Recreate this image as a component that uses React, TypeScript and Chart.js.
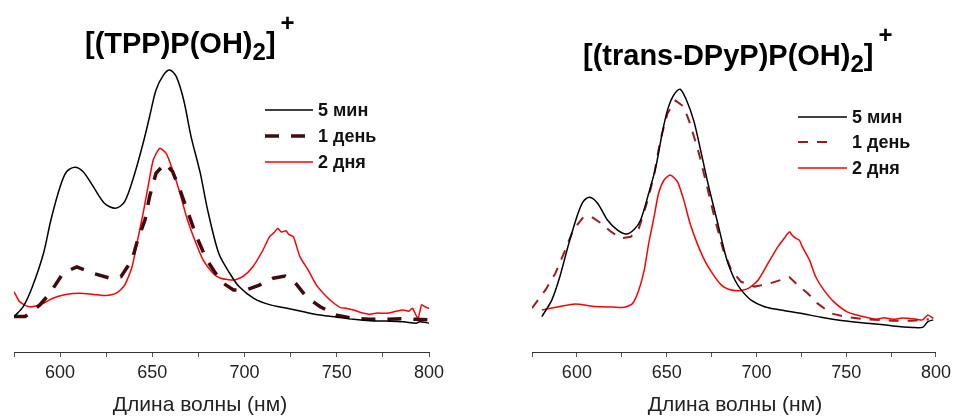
import React, { useEffect, useRef } from 'react';
import { Chart, registerables } from 'chart.js';

Chart.register(...registerables);

const FONT = '"Liberation Sans", Arial, sans-serif';

// ---------- Data: [(TPP)P(OH)2]+ ----------
const seriesLabels = ['5 мин', '1 день', '2 дня'];
const axisTitle = 'Длина волны (нм)';
const xTickValues = [600, 650, 700, 750, 800];

const tppNm5min = [575, 580, 585, 591, 595, 600, 603.5, 608, 612.5, 618, 624, 630, 635, 640.5, 645, 648.5, 652, 656, 659.5, 663, 667, 671, 676, 680, 686, 692, 697, 705, 714, 723, 732, 741, 750, 759, 768, 777, 786, 793, 795, 800];
const tpp5min = [0.118, 0.151, 0.218, 0.329, 0.44, 0.551, 0.601, 0.616, 0.601, 0.551, 0.496, 0.479, 0.501, 0.596, 0.696, 0.784, 0.873, 0.923, 0.94, 0.918, 0.84, 0.718, 0.596, 0.473, 0.329, 0.262, 0.218, 0.179, 0.157, 0.146, 0.134, 0.123, 0.116, 0.109, 0.104, 0.103, 0.101, 0.096, 0.101, 0.096];

const tppNm1day = [575, 581, 589, 594.5, 601.5, 609, 618, 627, 633, 639, 642, 646, 648.5, 652, 657, 661, 665, 669.5, 674, 679.5, 685.5, 688.5, 694, 701, 708, 715.5, 722, 727, 733.5, 741, 750, 759, 768, 777, 786, 793, 800];
const tpp1day = [0.118, 0.118, 0.157, 0.196, 0.262, 0.284, 0.262, 0.246, 0.251, 0.307, 0.373, 0.44, 0.518, 0.596, 0.629, 0.601, 0.54, 0.462, 0.384, 0.307, 0.251, 0.229, 0.207, 0.207, 0.223, 0.246, 0.253, 0.234, 0.184, 0.151, 0.123, 0.112, 0.109, 0.109, 0.111, 0.109, 0.107];

const tppNm2days = [575, 578, 583, 589, 596, 603, 611, 618, 625, 630.5, 635, 639, 642, 645, 648, 650.5, 654, 657.5, 661, 665, 668.5, 673, 677.5, 683, 687, 694, 699, 704.5, 710, 713.5, 716, 718, 720, 722.5, 724, 726.5, 730, 734.5, 739, 744.5, 748, 752, 755, 759, 763, 768, 772, 777, 781, 786, 789, 791, 794, 796, 798, 800];
const tpp2days = [0.201, 0.168, 0.151, 0.157, 0.179, 0.192, 0.196, 0.192, 0.188, 0.196, 0.223, 0.284, 0.373, 0.462, 0.562, 0.64, 0.679, 0.662, 0.607, 0.529, 0.451, 0.373, 0.307, 0.262, 0.246, 0.24, 0.251, 0.284, 0.34, 0.384, 0.398, 0.412, 0.4, 0.404, 0.392, 0.384, 0.318, 0.273, 0.223, 0.184, 0.165, 0.148, 0.146, 0.14, 0.132, 0.126, 0.13, 0.129, 0.134, 0.14, 0.136, 0.146, 0.112, 0.157, 0.15, 0.146];

// ---------- Data: [(trans-DPyP)P(OH)2]+ ----------
const dpyNm5min = [580.5, 586, 590.5, 595, 600, 603.5, 607, 611.5, 617, 622.5, 627.5, 632, 635.5, 640, 644, 647.5, 650.5, 654, 657.5, 661, 665, 668.5, 673, 678, 682.5, 684.5, 688, 691.5, 697, 704.5, 713.5, 724.5, 736, 748.5, 761.5, 776, 787, 792.5, 795.5, 798.5];
const dpy5min = [0.118, 0.173, 0.251, 0.351, 0.451, 0.501, 0.516, 0.496, 0.44, 0.407, 0.393, 0.409, 0.44, 0.529, 0.618, 0.729, 0.807, 0.857, 0.876, 0.84, 0.773, 0.684, 0.562, 0.44, 0.329, 0.29, 0.24, 0.207, 0.173, 0.151, 0.14, 0.129, 0.116, 0.104, 0.096, 0.087, 0.082, 0.082, 0.101, 0.107];

const dpyNm1day = [575, 582.5, 588, 593.5, 598, 603.5, 608, 613.5, 619, 624.5, 630, 634.5, 639.5, 643, 646.5, 650.5, 655, 659.5, 663, 668, 672.5, 677, 681.5, 686, 691.5, 699, 706.5, 713.5, 718.5, 723, 728.5, 734, 741.5, 750.5, 761.5, 776, 787, 796];
const dpy1day = [0.146, 0.207, 0.262, 0.34, 0.407, 0.449, 0.451, 0.429, 0.401, 0.379, 0.384, 0.412, 0.507, 0.59, 0.707, 0.796, 0.838, 0.818, 0.762, 0.662, 0.551, 0.44, 0.34, 0.273, 0.234, 0.218, 0.227, 0.24, 0.249, 0.223, 0.196, 0.162, 0.129, 0.116, 0.109, 0.104, 0.104, 0.109];

const dpyNm2days = [580.5, 590, 599, 610, 620, 626.5, 631, 634.5, 637.5, 640, 643, 645.5, 648.5, 652, 656, 659.5, 663, 667, 671.5, 676, 680.5, 684.5, 690, 695.5, 701, 706.5, 712, 715.5, 717, 718.5, 720, 722, 724, 725.5, 729.5, 733, 737.5, 743, 750.5, 758, 767, 771, 776, 781, 785.5, 790, 792.5, 795.5, 798.5];
const dpy2days = [0.14, 0.151, 0.16, 0.152, 0.15, 0.149, 0.162, 0.207, 0.273, 0.362, 0.451, 0.529, 0.573, 0.59, 0.568, 0.507, 0.429, 0.362, 0.301, 0.257, 0.223, 0.209, 0.204, 0.212, 0.24, 0.296, 0.351, 0.379, 0.392, 0.401, 0.388, 0.379, 0.372, 0.351, 0.307, 0.251, 0.207, 0.168, 0.134, 0.12, 0.109, 0.114, 0.109, 0.113, 0.112, 0.108, 0.107, 0.123, 0.112];

const pts = (xs: number[], ys: number[]) => xs.map((x, i) => ({ x, y: ys[i] }));

type PanelCfg = {
  left: number;
  pad: { left: number; right: number; top: number };
  title: { x: number; y: number; main: string; sub: string; close: string; sup: string };
  legend: { x0: number; x1: number; dashEnd: number; tx: number; ys: number[] };
  axisTitleX: number;
  dashColor: string;
  dashWidth: number;
  dash: number[];
  data: { nm: number[]; v: number[] }[];
};

const panels: PanelCfg[] = [
  {
    left: 0,
    pad: { left: 14, right: 49, top: 52 },
    title: { x: 85, y: 53, main: '[(TPP)P(OH)', sub: '2', close: ']', sup: '+' },
    legend: { x0: 265, x1: 313, dashEnd: 306, tx: 318, ys: [110, 136, 162] },
    axisTitleX: 200,
    dashColor: '#420a0e',
    dashWidth: 3.5,
    dash: [14, 12],
    data: [
      { nm: tppNm5min, v: tpp5min },
      { nm: tppNm1day, v: tpp1day },
      { nm: tppNm2days, v: tpp2days },
    ],
  },
  {
    left: 478,
    pad: { left: 54, right: 17, top: 52 },
    title: { x: 105, y: 65, main: '[(trans-DPyP)P(OH)', sub: '2', close: ']', sup: '+' },
    legend: { x0: 320, x1: 369, dashEnd: 350, tx: 374, ys: [117, 142, 168] },
    axisTitleX: 257,
    dashColor: '#a01820',
    dashWidth: 2,
    dash: [10, 9],
    data: [
      { nm: dpyNm5min, v: dpy5min },
      { nm: dpyNm1day, v: dpy1day },
      { nm: dpyNm2days, v: dpy2days },
    ],
  },
];

function Panel({ cfg }: { cfg: PanelCfg }) {
  const ref = useRef<HTMLCanvasElement>(null);
  useEffect(() => {
    if (!ref.current) return;
    const decorPlugin = {
      id: 'decor',
      afterDraw(chart: any) {
        const ctx = chart.ctx as CanvasRenderingContext2D;
        ctx.save();
        // Title with subscript / superscript
        const t = cfg.title;
        let x = t.x;
        ctx.fillStyle = '#000';
        ctx.textAlign = 'left';
        ctx.textBaseline = 'alphabetic';
        ctx.font = `bold 29px ${FONT}`;
        ctx.fillText(t.main, x, t.y);
        x += ctx.measureText(t.main).width;
        ctx.font = `bold 24px ${FONT}`;
        ctx.fillText(t.sub, x, t.y + 7);
        x += ctx.measureText(t.sub).width;
        ctx.font = `bold 29px ${FONT}`;
        ctx.fillText(t.close, x, t.y);
        x += ctx.measureText(t.close).width + 5;
        ctx.font = `bold 24px ${FONT}`;
        ctx.fillText(t.sup, x, t.y - 22);

        // Legend
        const lg = cfg.legend;
        chart.data.datasets.forEach((ds: any, i: number) => {
          const y = lg.ys[i];
          ctx.beginPath();
          ctx.strokeStyle = ds.borderColor;
          ctx.lineWidth = ds.borderWidth;
          ctx.setLineDash(ds.borderDash || []);
          ctx.moveTo(lg.x0, y);
          ctx.lineTo(ds.borderDash && ds.borderDash.length ? lg.dashEnd : lg.x1, y);
          ctx.stroke();
          ctx.setLineDash([]);
          ctx.fillStyle = '#111';
          ctx.font = `bold 18px ${FONT}`;
          ctx.textBaseline = 'middle';
          ctx.fillText(ds.label, lg.tx, y + 1);
        });

        // Axis title
        ctx.fillStyle = '#222';
        ctx.font = `21px ${FONT}`;
        ctx.textAlign = 'center';
        ctx.textBaseline = 'middle';
        ctx.fillText(axisTitle, cfg.axisTitleX, 405);
        ctx.restore();
      },
    };

    const chart = new Chart(ref.current, {
      type: 'line',
      data: {
        datasets: [
          {
            label: seriesLabels[0],
            data: pts(cfg.data[0].nm, cfg.data[0].v),
            borderColor: '#000000',
            borderWidth: 1.5,
            pointRadius: 0,
            tension: 0.3,
            fill: false,
          },
          {
            label: seriesLabels[1],
            data: pts(cfg.data[1].nm, cfg.data[1].v),
            borderColor: cfg.dashColor,
            borderWidth: cfg.dashWidth,
            borderDash: cfg.dash,
            pointRadius: 0,
            tension: 0,
            fill: false,
          },
          {
            label: seriesLabels[2],
            data: pts(cfg.data[2].nm, cfg.data[2].v),
            borderColor: '#ff0000',
            borderWidth: 1.5,
            pointRadius: 0,
            tension: 0.2,
            fill: false,
          },
        ],
      },
      options: {
        responsive: false,
        devicePixelRatio: 1,
        animation: false,
        layout: { padding: { left: cfg.pad.left, right: cfg.pad.right, top: cfg.pad.top, bottom: 0 } },
        plugins: {
          legend: { display: false },
          tooltip: { enabled: false },
          title: { display: false },
        },
        scales: {
          x: {
            type: 'linear',
            min: 575,
            max: 800,
            afterFit: (s: any) => {
              s.height = 65;
            },
            ticks: {
              stepSize: 25,
              autoSkip: false,
              maxRotation: 0,
              minRotation: 0,
              padding: 5,
              color: '#222',
              font: { family: FONT, size: 18 },
              callback: (v: any) => (xTickValues.includes(Number(v)) ? String(v) : ''),
            },
            grid: {
              drawOnChartArea: false,
              drawTicks: true,
              tickLength: 5,
              color: '#555',
              lineWidth: 1,
            },
            border: { display: true, color: '#333', width: 1 },
          },
          y: { display: false, min: 0, max: 1 },
        },
      } as any,
      plugins: [decorPlugin],
    });
    return () => chart.destroy();
  }, []);
  return (
    <canvas
      ref={ref}
      width={478}
      height={417}
      style={{ position: 'absolute', left: cfg.left, top: 0, width: 478, height: 417, display: 'block' }}
    />
  );
}

export default function App() {
  return (
    <div style={{ position: 'absolute', left: 0, top: 0, width: 956, height: 417, background: '#fff', overflow: 'hidden' }}>
      {panels.map((p, i) => (
        <Panel key={i} cfg={p} />
      ))}
    </div>
  );
}
